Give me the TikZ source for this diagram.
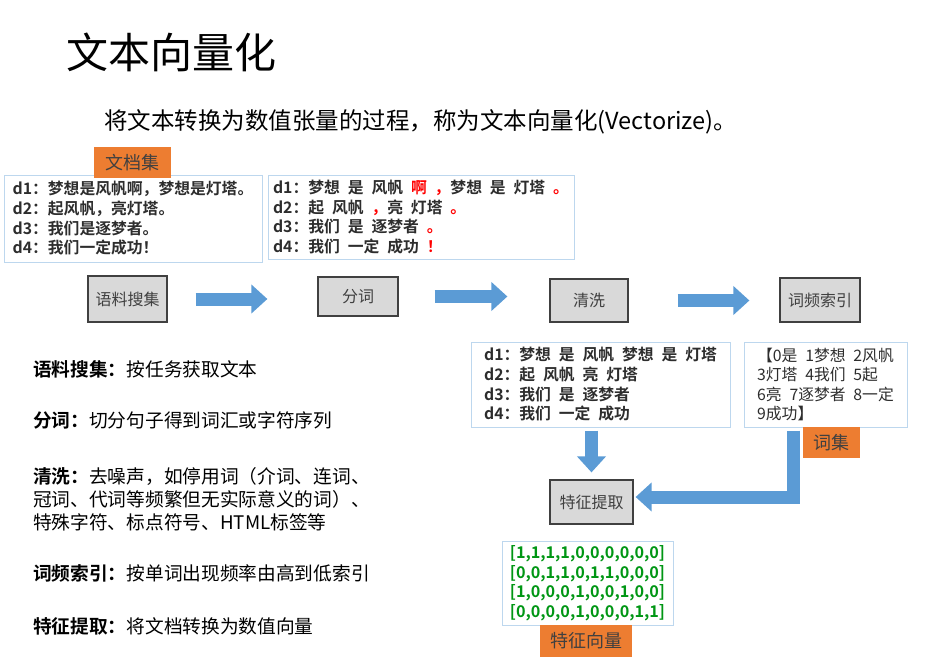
\documentclass[tikz,border=0pt]{standalone}
\usepackage{fontspec}
\setmainfont{Noto Sans CJK SC}[WordSpace=2.2, BoldFont={Noto Sans CJK SC Bold}]
\usetikzlibrary{arrows.meta}
\definecolor{boxgray}{RGB}{217,217,217}
\definecolor{edgegray}{RGB}{64,64,64}
\definecolor{paleblue}{RGB}{189,215,238}
\definecolor{arrowblue}{RGB}{91,155,213}
\definecolor{tagorange}{RGB}{237,125,49}
\definecolor{vecgreen}{RGB}{0,150,20}
\definecolor{inkgray}{RGB}{45,45,45}
\tikzstyle{process} = [
    rectangle,
    fill=boxgray,
    draw=edgegray,
    line width=1.2pt,
    text=edgegray,
    font=\fontsize{16}{19}\selectfont
]
\tikzstyle{textbox} = [
    rectangle,
    draw=paleblue,
    line width=1pt,
    align=left,
    inner sep=0pt,
    text=inkgray,
    font=\bfseries\fontsize{15.8}{19.7}\selectfont
]
\tikzstyle{tag} = [
    rectangle,
    fill=tagorange,
    text=edgegray,
    minimum height=31pt,
    inner sep=0pt,
    font=\fontsize{18}{20}\selectfont
]
\tikzstyle{desc} = [
    anchor=west,
    align=left,
    inner sep=0pt,
    text=black,
    font=\fontsize{18.7}{23}\selectfont
]
\tikzstyle{blockarrow} = [
    draw=arrowblue,
    line width=13pt,
    line join=miter,
    -{Triangle[width=28pt,length=16pt]}
]

\begin{document}
\begin{tikzpicture}[x=1pt, y=-1pt]
\useasboundingbox (0,0) rectangle (927,664);

% heading
\node (title) [anchor=west, inner sep=0pt, font=\fontsize{42}{48}\selectfont]
    at (66,52) {文本向量化};
\node (subtitle) [anchor=west, inner sep=0pt, font=\fontsize{23.5}{28}\selectfont]
    at (104,122) {将文本转换为数值张量的过程，称为文本向量化(Vectorize)。};

% documents
\node (docs) [textbox, minimum width=258pt, minimum height=87pt] at (133,218.5)
{d1：梦想是风帆啊，梦想是灯塔。\\
 d2：起风帆，亮灯塔。\\
 d3：我们是逐梦者。\\
 d4：我们一定成功！};
\node (docstag) [tag, minimum width=77pt] at (132.5,162.5) {文档集};

\node (tokens) [textbox, minimum width=306pt, minimum height=84pt] at (421,217)
{d1：梦想 是 风帆 \textcolor{red}{啊 ，}梦想 是 灯塔 \textcolor{red}{。}\\
 d2：起 风帆 \textcolor{red}{，}亮 灯塔 \textcolor{red}{。}\\
 d3：我们 是 逐梦者 \textcolor{red}{。}\\
 d4：我们 一定 成功 \textcolor{red}{！}};

% pipeline
\node (collect) [process, minimum width=79pt, minimum height=46pt] at (127.5,299) {语料搜集};
\node (segment) [process, minimum width=80pt, minimum height=39pt] at (358,296.5) {分词};
\node (clean) [process, minimum width=78pt, minimum height=43pt] at (589,300.5) {清洗};
\node (index) [process, minimum width=80pt, minimum height=44pt] at (820,300) {词频索引};
\node (extract) [process, minimum width=83pt, minimum height=44pt] at (591.5,502) {特征提取};

\node (cleaned) [textbox, minimum width=259pt, minimum height=85pt] at (600.5,384.5)
{d1：梦想 是 风帆 梦想 是 灯塔\\
 d2：起 风帆 亮 灯塔\\
 d3：我们 是 逐梦者\\
 d4：我们 一定 成功};

\node (vocab) [textbox, font=\fontsize{15.8}{19.4}\selectfont, minimum width=163pt, minimum height=85pt]
    at (825.5,384.5)
{【0是 1梦想 2风帆\\
 3灯塔 4我们 5起\\
 6亮 7逐梦者 8一定\\
 9成功】};
\node (vocabtag) [tag, minimum width=57pt] at (831.5,442.5) {词集};

\node (vectors) [textbox, text=vecgreen, font=\bfseries\fontsize{16.2}{19.5}\selectfont,
    minimum width=171pt, minimum height=84pt] at (587.5,583)
{{[1,1,1,1,0,0,0,0,0,0]}\\
 {[0,0,1,1,0,1,1,0,0,0]}\\
 {[1,0,0,0,1,0,0,1,0,0]}\\
 {[0,0,0,0,1,0,0,0,1,1]}};
\node (vectorstag) [tag, minimum width=92pt, minimum height=32pt] at (586,641) {特征向量};

\draw [blockarrow, shorten <=28pt, shorten >=50pt] (collect.east) -- (collect.east -| segment.west);
\draw [blockarrow, shorten <=36pt, shorten >=42pt] (segment.east) -- (segment.east -| clean.west);
\draw [blockarrow, shorten <=49pt, shorten >=30pt] (clean.east) -- (clean.east -| index.west);
\draw [blockarrow, shorten <=3pt, shorten >=7pt] (cleaned.south -| extract.north) -- (extract.north);
\draw [blockarrow, shorten <=3pt, shorten >=2pt] ([xshift=-32.5pt]vocab.south) |- ([yshift=5pt]extract.east);

% descriptions
\node (dcollect) [desc] at (33,369) {\textbf{语料搜集：}按任务获取文本};
\node (dsegment) [desc] at (33,420) {\textbf{分词：}切分句子得到词汇或字符序列};
\node (dclean) [desc] at (33,499)
{\textbf{清洗：}去噪声，如停用词（介词、连词、\\
 冠词、代词等频繁但无实际意义的词）、\\
 特殊字符、标点符号、HTML标签等};
\node (dindex) [desc] at (33,573) {\textbf{词频索引：}按单词出现频率由高到低索引};
\node (dextract) [desc] at (33,626) {\textbf{特征提取：}将文档转换为数值向量};

\end{tikzpicture}
\end{document}
